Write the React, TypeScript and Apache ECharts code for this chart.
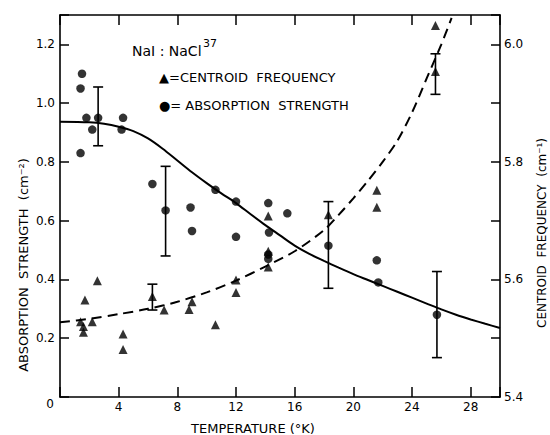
import React, { useEffect, useRef } from "react";
import * as echarts from "echarts";

// Absorption strength (cm^-2), left axis: [temperature K, value]
const absorptionStrength: [number, number][] = [
  [1.4, 1.05], [1.5, 1.1], [1.4, 0.83], [1.8, 0.95], [2.2, 0.91], [2.6, 0.95],
  [4.2, 0.91], [4.3, 0.95], [6.3, 0.725], [7.2, 0.635], [8.9, 0.645], [9.0, 0.565],
  [10.6, 0.705], [12.0, 0.665], [12.0, 0.545], [14.2, 0.66], [14.25, 0.56],
  [14.2, 0.485], [14.2, 0.47], [15.5, 0.625], [18.3, 0.515], [21.6, 0.465],
  [21.7, 0.39], [25.7, 0.28],
];

// Centroid frequency (cm^-1), right axis
const centroidFrequency: [number, number][] = [
  [1.4, 5.528], [1.6, 5.52], [1.6, 5.51], [1.7, 5.565], [2.2, 5.528], [2.55, 5.598],
  [4.3, 5.507], [4.3, 5.481], [6.3, 5.571], [7.1, 5.548], [8.8, 5.549], [9.0, 5.562],
  [10.6, 5.523], [12.0, 5.599], [12.0, 5.578], [14.2, 5.621], [14.2, 5.648],
  [14.2, 5.708], [18.3, 5.71], [21.6, 5.723], [21.6, 5.752], [25.6, 5.954],
  [25.6, 6.032],
];

// Error bars: [temperature, low, high]
const absorptionErrors: [number, number, number][] = [
  [2.6, 0.855, 1.055], [7.2, 0.48, 0.785], [18.3, 0.37, 0.665], [25.7, 0.134, 0.427],
];
const frequencyErrors: [number, number, number][] = [
  [6.3, 5.548, 5.592], [25.6, 5.915, 5.984],
];

// Fitted curves
const absorptionFit: [number, number][] = [
  [0, 0.937], [2, 0.935], [3, 0.93], [4, 0.92], [5, 0.905], [6, 0.88], [7, 0.845],
  [8, 0.805], [9, 0.765], [10, 0.728], [11, 0.693], [12, 0.66], [13, 0.622],
  [14, 0.585], [15, 0.55], [16, 0.515], [17, 0.487], [18, 0.463], [19, 0.44],
  [20, 0.418], [21, 0.398], [22, 0.378], [23, 0.358], [24, 0.338], [25, 0.318],
  [26, 0.298], [27, 0.28], [28, 0.264], [29, 0.249], [30, 0.235],
];
const frequencyFit: [number, number][] = [
  [0, 5.527], [2, 5.533], [4, 5.541], [6, 5.55], [8, 5.562], [10, 5.578],
  [12, 5.598], [14, 5.622], [16, 5.648], [18, 5.684], [19, 5.71], [20, 5.738],
  [21, 5.768], [22, 5.8], [23, 5.836], [24, 5.884], [25, 5.942], [26, 6.0],
  [26.7, 6.045],
];

const FONT = "DejaVu Sans";

const errRender = (params: any, api: any) => {
  const x = api.value(0);
  const lo = api.coord([x, api.value(1)]);
  const hi = api.coord([x, api.value(2)]);
  const w = 5;
  const style = { stroke: "#000", lineWidth: 1.6 };
  return {
    type: "group",
    children: [
      { type: "line", shape: { x1: lo[0], y1: lo[1], x2: hi[0], y2: hi[1] }, style },
      { type: "line", shape: { x1: lo[0] - w, y1: lo[1], x2: lo[0] + w, y2: lo[1] }, style },
      { type: "line", shape: { x1: hi[0] - w, y1: hi[1], x2: hi[0] + w, y2: hi[1] }, style },
    ],
  };
};

export default function App() {
  const ref = useRef<HTMLDivElement>(null);
  useEffect(() => {
    if (!ref.current) return;
    const chart = echarts.init(ref.current, undefined, { renderer: "svg" });
    const axisLine = { show: true, onZero: false, lineStyle: { color: "#000", width: 1.6 } };
    const axisTick = { show: true, inside: true, length: 10, lineStyle: { color: "#000", width: 1.5 } };
    const labelStyle = { color: "#000", fontFamily: FONT, fontSize: 12 };
    chart.setOption({
      animation: false,
      backgroundColor: "#fff",
      textStyle: { fontFamily: FONT, color: "#000" },
      grid: { left: 60, right: 50, top: 15, bottom: 38 },
      xAxis: [
        {
          type: "value", min: 0, max: 30, interval: 4, position: "bottom",
          axisLine, axisTick, splitLine: { show: false },
          axisLabel: {
            ...labelStyle, margin: 4,
            formatter: (v: number) => (v === 0 || v > 29 ? "" : String(v)),
          },
        },
        {
          type: "value", min: 0, max: 30, interval: 4, position: "top",
          axisLine, axisTick, splitLine: { show: false }, axisLabel: { show: false },
        },
      ],
      yAxis: [
        {
          type: "value", min: 0, max: 1.3, interval: 0.2, position: "left",
          axisLine, axisTick: { ...axisTick, length: 9 }, splitLine: { show: false },
          axisLabel: {
            ...labelStyle, margin: 5,
            formatter: (v: number) => (v < 0.01 || v > 1.25 ? "" : v.toFixed(1)),
          },
        },
        {
          type: "value", min: 5.4, max: 6.05, interval: 0.1, position: "right",
          axisLine, axisTick: { ...axisTick, length: 9 }, splitLine: { show: false },
          axisLabel: {
            ...labelStyle, margin: 4,
            formatter: (v: number) => {
              const k = Math.round(v * 10);
              return k % 2 === 0 && v < 6.01 ? (k / 10).toFixed(1) : "";
            },
          },
        },
      ],
      series: [
        {
          type: "line", xAxisIndex: 0, yAxisIndex: 0, data: absorptionFit, smooth: 0.3,
          showSymbol: false, lineStyle: { color: "#000", width: 2 }, silent: true,
        },
        {
          type: "line", xAxisIndex: 0, yAxisIndex: 1, data: frequencyFit, smooth: 0.3,
          showSymbol: false, lineStyle: { color: "#000", width: 2, type: [10, 6] }, silent: true,
        },
        {
          type: "scatter", xAxisIndex: 0, yAxisIndex: 0, data: absorptionStrength,
          symbol: "circle", symbolSize: 8.5, itemStyle: { color: "#000" },
        },
        {
          type: "scatter", xAxisIndex: 0, yAxisIndex: 1, data: centroidFrequency,
          symbol: "triangle", symbolSize: 9, itemStyle: { color: "#000" },
        },
        {
          type: "custom", xAxisIndex: 0, yAxisIndex: 0, data: absorptionErrors,
          encode: { x: 0, y: [1, 2] }, renderItem: errRender,
        },
        {
          type: "custom", xAxisIndex: 0, yAxisIndex: 1, data: frequencyErrors,
          encode: { x: 0, y: [1, 2] }, renderItem: errRender,
        },
      ],
      graphic: [
        {
          type: "text", x: 50, y: 404,
          style: { text: "0", font: `12px "${FONT}"`, fill: "#000", align: "center", verticalAlign: "middle" },
        },
        {
          type: "text", x: 132, y: 51,
          style: { text: "NaI : NaCl", font: `14px "${FONT}"`, fill: "#000", align: "left", verticalAlign: "middle" },
        },
        {
          type: "text", x: 203, y: 43,
          style: { text: "37", font: `11px "${FONT}"`, fill: "#000", align: "left", verticalAlign: "middle" },
        },
        {
          type: "text", x: 159, y: 77,
          style: { text: "▲=CENTROID  FREQUENCY", font: `13px "${FONT}"`, fill: "#000", align: "left", verticalAlign: "middle" },
        },
        {
          type: "text", x: 159, y: 105,
          style: { text: "●= ABSORPTION  STRENGTH", font: `13px "${FONT}"`, fill: "#000", align: "left", verticalAlign: "middle" },
        },
        {
          type: "text", x: 23, y: 265, rotation: Math.PI / 2,
          style: { text: "ABSORPTION  STRENGTH  (cm⁻²)", font: `13px "${FONT}"`, fill: "#000", align: "center", verticalAlign: "middle" },
        },
        {
          type: "text", x: 542, y: 233, rotation: Math.PI / 2,
          style: { text: "CENTROID  FREQUENCY  (cm⁻¹)", font: `12px "${FONT}"`, fill: "#000", align: "center", verticalAlign: "middle" },
        },
        {
          type: "text", x: 253, y: 428,
          style: { text: "TEMPERATURE (°K)", font: `13px "${FONT}"`, fill: "#000", align: "center", verticalAlign: "middle" },
        },
      ],
    });
    return () => chart.dispose();
  }, []);
  return (
    <div
      ref={ref}
      style={{ position: "absolute", left: 0, top: 0, width: 550, height: 435, background: "#fff" }}
    />
  );
}
